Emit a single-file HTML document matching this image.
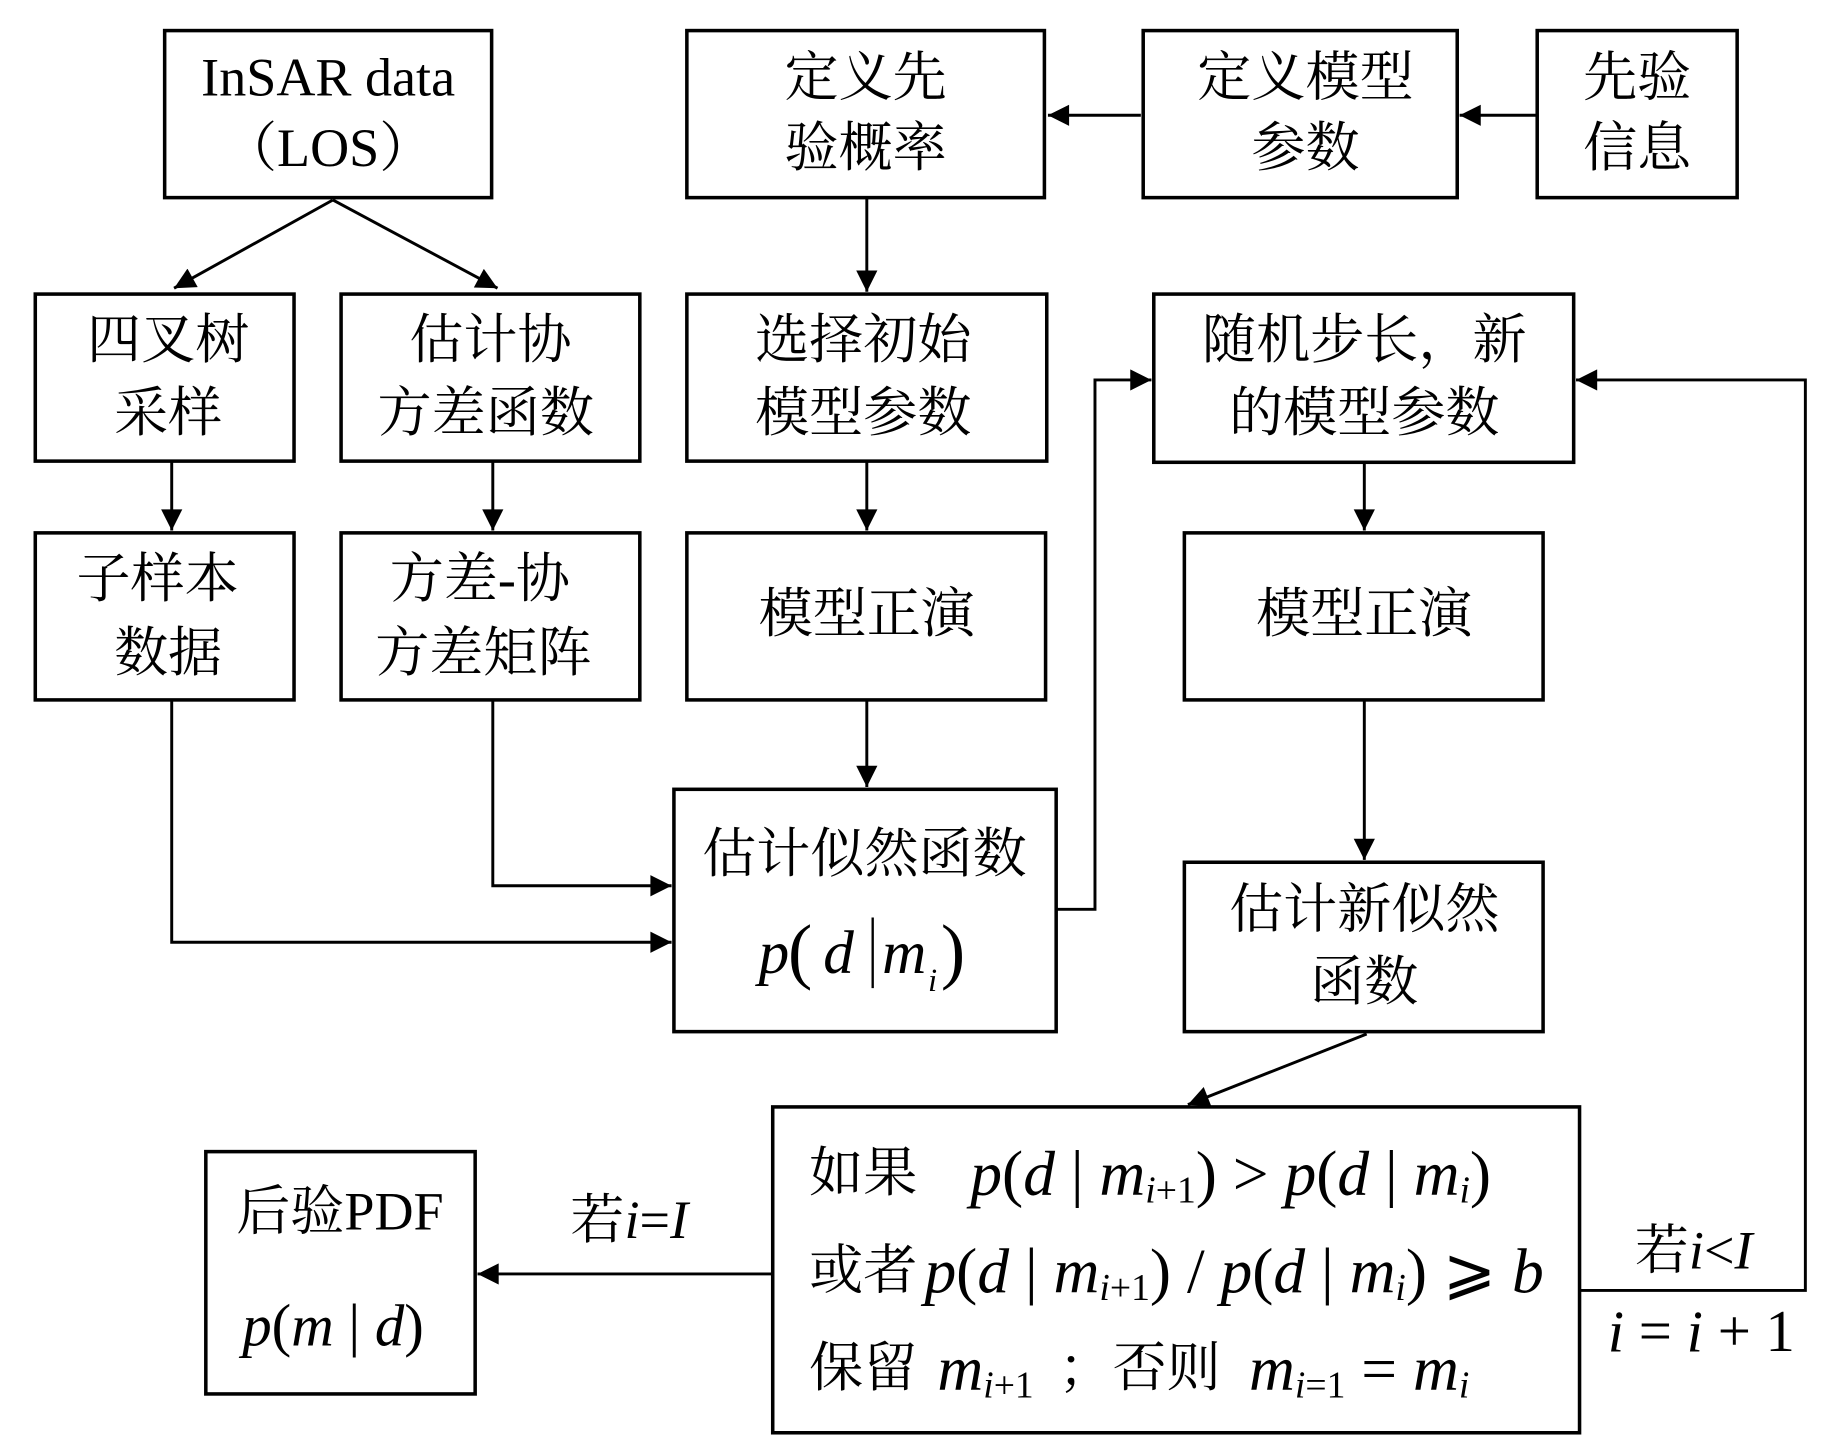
<!DOCTYPE html>
<html><head><meta charset="utf-8"><style>
html,body{margin:0;padding:0;background:#fff;}
svg{display:block;}
text{font-family:"Liberation Serif","Noto Serif CJK SC",serif;font-size:46px;fill:#000;}
.m{font-style:italic;}
.s{font-size:28px;font-style:italic;}
.f{font-size:54px;}
.fs{font-size:32px;}
</style></head><body>
<svg width="1843" height="1441" viewBox="0 0 1567 1225" preserveAspectRatio="none" xmlns="http://www.w3.org/2000/svg">
<defs>
<marker id="b" viewBox="0 0 10 10" refX="10" refY="5" markerWidth="22" markerHeight="18" markerUnits="userSpaceOnUse" orient="auto"><path d="M0,0 L10,5 L0,10 z" fill="#000"/></marker></defs>
<g fill="none" stroke="#000" stroke-width="3">
<rect x="140" y="26" width="278" height="142"/>
<rect x="584" y="26" width="304" height="142"/>
<rect x="972" y="26" width="267" height="142"/>
<rect x="1307" y="26" width="170" height="142"/>
<rect x="30" y="250" width="220" height="142"/>
<rect x="290" y="250" width="254" height="142"/>
<rect x="584" y="250" width="306" height="142"/>
<rect x="981" y="250" width="357" height="143"/>
<rect x="30" y="453" width="220" height="142"/>
<rect x="290" y="453" width="254" height="142"/>
<rect x="584" y="453" width="305" height="142"/>
<rect x="1007" y="453" width="305" height="142"/>
<rect x="573" y="671" width="325" height="206"/>
<rect x="1007" y="733" width="305" height="144"/>
<rect x="175" y="979" width="229" height="206"/>
<rect x="657" y="941" width="686" height="277"/>
</g>
<g fill="none" stroke="#000" stroke-width="2.5" marker-end="url(#b)">
<line x1="970" y1="98" x2="891" y2="98"/>
<line x1="1307" y1="98" x2="1241" y2="98"/>
<line x1="283" y1="170" x2="148" y2="245"/>
<line x1="283" y1="170" x2="423" y2="245"/>
<line x1="737" y1="168" x2="737" y2="248"/>
<line x1="737" y1="392" x2="737" y2="451"/>
<line x1="737" y1="595" x2="737" y2="669"/>
<line x1="146" y1="392" x2="146" y2="451"/>
<line x1="419" y1="392" x2="419" y2="451"/>
<line x1="1160" y1="393" x2="1160" y2="451"/>
<line x1="1160" y1="595" x2="1160" y2="731"/>
<polyline points="419,595 419,753 571,753"/>
<polyline points="146,595 146,801 571,801"/>
<polyline points="898,773 931,773 931,323 979,323"/>
<line x1="1162" y1="879" x2="1010" y2="939"/>
<line x1="657" y1="1083" x2="406" y2="1083"/>
<polyline points="1343,1097 1535,1097 1535,323 1340,323"/>
</g>
<g text-anchor="middle" dominant-baseline="central">
<text x="279" y="66">InSAR data</text>
<text x="279" y="126">（LOS）</text>
<text x="736" y="66">定义先</text><text x="736" y="126">验概率</text>
<text x="1110" y="66">定义模型</text><text x="1110" y="126">参数</text>
<text x="1392" y="66">先验</text><text x="1392" y="126">信息</text>
<text x="143" y="289">四叉树</text><text x="143" y="351">采样</text>
<text x="417" y="289">估计协</text><text x="413" y="351">方差函数</text>
<text x="734" y="289">选择初始</text><text x="734" y="351">模型参数</text>
<text x="1160" y="289">随机步长，新</text><text x="1160" y="351">的模型参数</text>
<text x="134" y="492">子样本</text><text x="143" y="555">数据</text>
<text x="408" y="492">方差-协</text><text x="411" y="555">方差矩阵</text>
<text x="737" y="522">模型正演</text>
<text x="1160" y="522">模型正演</text>
<text x="735" y="726">估计似然函数</text>
<text x="1160" y="773">估计新似然</text><text x="1160" y="835">函数</text>
<text x="289" y="1030">后验PDF</text>
</g>
<g dominant-baseline="central">
<text x="645" y="810" class="m" style="font-size:52px">p</text>
<text x="670" y="808" style="font-size:62px">(</text>
<text x="700" y="810" class="m" style="font-size:52px">d</text>
<line x1="742" y1="780" x2="742" y2="840" stroke="#000" stroke-width="2"/>
<text x="750" y="810" class="m" style="font-size:52px">m</text>
<text x="789" y="834" class="s">i</text>
<text x="800" y="808" style="font-size:62px">)</text>
<text x="206" y="1127" style="font-size:50px"><tspan class="m">p</tspan>(<tspan class="m">m</tspan> | <tspan class="m">d</tspan>)</text>
<text x="485" y="1037">若<tspan class="m">i</tspan>=<tspan class="m">I</tspan></text>
<text x="1390" y="1063">若<tspan class="m">i</tspan>&lt;<tspan class="m">I</tspan></text>
<text x="1367" y="1132" style="font-size:50px"><tspan class="m">i</tspan> = <tspan class="m">i</tspan> + 1</text>
<text x="688" y="997">如果</text>
<text x="825" y="997" class="f"><tspan class="m">p</tspan>(<tspan class="m">d</tspan> | <tspan class="m">m</tspan><tspan class="fs m" dy="15">i</tspan><tspan class="fs">+1</tspan><tspan dy="-15">) &gt; </tspan><tspan class="m">p</tspan>(<tspan class="m">d</tspan> | <tspan class="m">m</tspan><tspan class="fs m" dy="15">i</tspan><tspan dy="-15">)</tspan></text>
<text x="688" y="1080">或者</text>
<text x="786" y="1080" class="f"><tspan class="m">p</tspan>(<tspan class="m">d</tspan> | <tspan class="m">m</tspan><tspan class="fs m" dy="15">i</tspan><tspan class="fs">+1</tspan><tspan dy="-15">) / </tspan><tspan class="m">p</tspan>(<tspan class="m">d</tspan> | <tspan class="m">m</tspan><tspan class="fs m" dy="15">i</tspan><tspan dy="-15">) ⩾ </tspan><tspan class="m">b</tspan></text>
<text x="688" y="1163">保留</text>
<text x="797" y="1163" class="f"><tspan class="m">m</tspan><tspan class="fs m" dy="15">i</tspan><tspan class="fs">+1</tspan></text>
<text x="900" y="1163">；否则</text>
<text x="1062" y="1163" class="f"><tspan class="m">m</tspan><tspan class="fs m" dy="15">i</tspan><tspan class="fs">=1</tspan><tspan dy="-15"> = </tspan><tspan class="m">m</tspan><tspan class="fs m" dy="15">i</tspan></text>
</g>
</svg>
</body></html>
